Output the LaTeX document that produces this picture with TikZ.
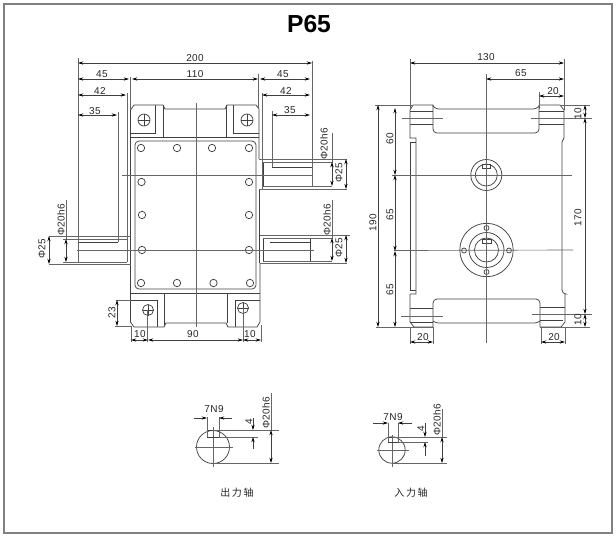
\documentclass[tikz,border=0pt]{standalone}
\usepackage{fontspec}
\setmainfont{Liberation Sans}
\newfontfamily\cjk{Noto Sans CJK SC}
\usetikzlibrary{arrows.meta}
\tikzset{
    part/.style={draw=black!75, line width=0.55pt},
    guide/.style={draw=black!60, line width=0.5pt},
    dimline/.style={draw=black!75, line width=0.5pt, {Stealth[length=4pt,width=2.4pt,black]}-{Stealth[length=4pt,width=2.4pt,black]}},
    tipend/.style={draw=black!75, line width=0.5pt, -{Stealth[length=4pt,width=2.4pt,black]}},
    dimtext/.style={font=\fontsize{7.5}{8}\selectfont\addfontfeatures{LetterSpace=4}, text=black!85, inner sep=0pt},
    dimup/.style={dimtext, rotate=90},
    cjktext/.style={font=\cjk\fontsize{7.5}{8}\selectfont, text=black!85, inner sep=0pt}
}
\begin{document}
\begin{tikzpicture}[x=0.75pt, y=-0.75pt]
    \useasboundingbox (0,0) rectangle (616,537);
    % Frame and title
    \draw[draw=black!50, line width=1.3pt] (4,4) rectangle (612,533);
    \node[font=\bfseries\fontsize{18.5}{18}\selectfont, inner sep=0pt] (title) at (309,24.5) {P65};

    % Front view: feet and body
    \draw[part] (130.5,322) -- (130.5,110) -- (134,105) -- (163,105) -- (165,109) -- (225,109) -- (227,105) -- (256,105) -- (259,109) -- (259,159);
    \draw[part] (130.5,137) -- (259,137);
    \draw[part] (130.5,133) -- (155,133) -- (155,105);
    \draw[part] (259,133) -- (233,133) -- (233,105);
    \draw[part] (163,105) -- (163,137);
    \draw[part] (226,105) -- (226,137);
    \draw[part, rounded corners=3pt] (135,141) rectangle (256,289);
    \draw[part] (130.5,322) -- (134,327) -- (164,327) -- (166,323) -- (226,323) -- (228,327) -- (257,327) -- (260,322) -- (260,263);
    \draw[part] (259,189) -- (259,263);
    \draw[part] (130.5,293) -- (260,293);
    \draw[part] (130.5,300) -- (157,300) -- (157,327);
    \draw[part] (260,300) -- (235,300) -- (235,327);
    \draw[part] (164,293) -- (164,325);
    \draw[part] (227,293) -- (227,323);

    % Holes
    \foreach \hx/\hy in {141/148,177/148,212/148,249/148,141.5/182,249/182,142/215,249/215,142/250,249/250,141/283,177/283,213.5/283,250/283}
        \draw[part] (\hx,\hy) circle (3.7);
    \foreach \bx/\by/\br in {144/120/6,247/120/6,148/310/5.5,243/308/5.5} {
        \draw[part] (\bx,\by) circle (\br);
        \draw[part] (\bx-\br,\by) -- (\bx+\br,\by);
        \draw[part] (\bx,\by-\br) -- (\bx,\by+\br);
    }

    % Front view: shafts
    \draw[part] (263,162) -- (263,186);
    \draw[part] (272,167) -- (312,167);
    \draw[part] (263,238) -- (263,261);
    \draw[part] (310,238) -- (310,261);
    \draw[part] (270,242) -- (310,242);
    \draw[part] (78,242) -- (118,242);
    % Centre lines
    \draw[guide] (196,103) -- (196,327);
    \draw[guide] (122,175) -- (312,175);
    \draw[guide] (77,250) -- (314,250);

    % Front view: extension lines
    \draw[guide] (78,58) -- (78,262);
    \draw[guide] (312,61) -- (312,186);
    \draw[guide] (130,77) -- (130,110);
    \draw[guide] (258,74) -- (258,109);
    \draw[guide] (127,93) -- (127,262);
    \draw[guide] (262,93) -- (262,189);
    \draw[guide] (118,112) -- (118,242);
    \draw[guide] (272,111) -- (272,167);
    \draw[guide] (259,159) -- (347,159);
    \draw[guide] (263,162) -- (333,162);
    \draw[guide] (263,186) -- (332,186);
    \draw[guide] (259,189) -- (347,189);
    \draw[guide] (260,235) -- (350,235);
    \draw[guide] (263,238) -- (333,238);
    \draw[guide] (263,261) -- (332,261);
    \draw[guide] (260,263) -- (347,263);
    \draw[guide] (49,236) -- (131,236);
    \draw[guide] (63,239) -- (127,239);
    \draw[guide] (63,262) -- (127,262);
    \draw[guide] (49,264) -- (131,264);
    \draw[guide] (332,133) -- (332,162);
    \draw[guide] (332,200) -- (332,238);
    \draw[guide] (66,200) -- (66,239);
    \draw[guide] (116,300) -- (131,300);
    \draw[guide] (115,326) -- (131,326);
    \draw[guide] (131,326) -- (131,342);
    \draw[guide] (147.5,310) -- (147.5,342);
    \draw[guide] (243,308) -- (243,342);
    \draw[guide] (261,325) -- (261,342);

    % Front view: dimensions
    \draw[dimline] (78,63) -- (312,63);
    \draw[dimline] (78,79) -- (129,79);
    \draw[dimline] (132,79) -- (258,79);
    \draw[dimline] (260,79) -- (310,79);
    \draw[dimline] (78,95) -- (126,95);
    \draw[dimline] (262,95) -- (310,95);
    \draw[dimline] (78,115) -- (117,115);
    \draw[dimline] (272,115) -- (310,115);
    \draw[dimline] (332,162) -- (332,186);
    \draw[dimline] (346,159) -- (346,189);
    \draw[dimline] (332,238) -- (332,261);
    \draw[dimline] (346,235) -- (346,263);
    \draw[dimline] (66,239) -- (66,262);
    \draw[dimline] (49,236) -- (49,264);
    \draw[dimline] (117,300) -- (117,326);
    \draw[dimline] (131,340) -- (148,340);
    \draw[dimline] (148,340) -- (243,340);
    \draw[dimline] (243,340) -- (261,340);
    \node[dimtext] (w200) at (195,58) {200};
    \node[dimtext] (w45a) at (102,74) {45};
    \node[dimtext] (w110) at (195,74) {110};
    \node[dimtext] (w45b) at (283,74) {45};
    \node[dimtext] (w42a) at (100,91) {42};
    \node[dimtext] (w42b) at (286,91) {42};
    \node[dimtext] (w35a) at (95,111) {35};
    \node[dimtext] (w35b) at (290,110) {35};
    \node[dimup] (dia20a) at (324,144) {Φ20h6};
    \node[dimup] (dia25a) at (339,173) {Φ25};
    \node[dimup] (dia20b) at (327,220) {Φ20h6};
    \node[dimup] (dia25b) at (339,248) {Φ25};
    \node[dimup] (dia20c) at (61,220) {Φ20h6};
    \node[dimup] (dia25c) at (42,249) {Φ25};
    \node[dimup] (h23) at (112,313) {23};
    \node[dimtext] (w10a) at (140,334) {10};
    \node[dimtext] (w90) at (193,334) {90};
    \node[dimtext] (w10b) at (250,334) {10};

    % Side view: outline
    \draw[part] (410,294) -- (416,294) -- (416,138) -- (410,138) -- (410,110) -- (413,105) -- (433,105) -- (433,106);
    \draw[part, rounded corners=3pt] (433,105) -- (433,133) -- (539,133) -- (539,105);
    \draw[part, rounded corners=2pt] (433,106) -- (436,109) -- (536,109) -- (539,106);
    \draw[part] (539,105) -- (560,105) -- (564,110) -- (564,138) -- (562,142);
    \draw[part, rounded corners=3pt] (562,142) -- (562,294) -- (565,294);
    \draw[part] (565,294) -- (565,322) -- (561,327) -- (540,327);
    \draw[part] (410,142) -- (410,290) -- (416,290);
    \draw[part] (410,142) -- (416,142);
    \draw[part] (410,294) -- (410,322) -- (414,327) -- (433,327);
    \draw[part, rounded corners=3pt] (433,327) -- (433,299) -- (540,299) -- (540,327);
    \draw[part, rounded corners=2pt] (433,321) -- (436,323) -- (537,323) -- (540,321);
    % Foot lines
    \foreach \fy in {111,124} {
        \draw[part] (410,\fy) -- (433,\fy);
        \draw[part] (539,\fy) -- (564,\fy);
    }
    \draw[part] (410,308) -- (433,308);
    \draw[part] (410,322) -- (433,322);
    \draw[part] (540,307) -- (565,307);
    \draw[part] (540,320) -- (563,320);

    % Side view: bores
    \draw[part] (486.3,175) circle (15.5);
    \draw[part] (486.3,175) circle (11);
    \draw[part] (482,164.5) rectangle (490,168.5);
    \draw[part] (486.5,250) circle (26.7);
    \draw[part] (486.5,250) circle (17.5);
    \draw[part] (486.5,250) circle (12);
    \draw[part] (482,239) rectangle (491,243);
    \foreach \px/\py in {486.5/228,486.5/272,464/250.5,509/250.5}
        \draw[part] (\px,\py) circle (2.5);

    % Side view: centre and extension lines
    \draw[guide] (486,74) -- (486,343);
    \draw[guide] (392,175.5) -- (572,175.5);
    \draw[guide] (394,250.5) -- (573,250);
    \draw[guide] (402,118) -- (443,118);
    \draw[guide] (531,118) -- (592,118);
    \draw[guide] (401,316) -- (443,316);
    \draw[guide] (532,314) -- (592,314);
    \draw[guide] (375,105) -- (413,105);
    \draw[guide] (376,327) -- (433,327);
    \draw[guide] (560,105) -- (590,105);
    \draw[guide] (540,327) -- (590,327);
    \draw[guide] (410,59) -- (410,110);
    \draw[guide] (564,59) -- (564,110);
    \draw[guide] (539,92) -- (539,109);
    \draw[guide] (410,327) -- (410,343.5);
    \draw[guide] (433,327) -- (433,343.5);
    \draw[guide] (541,327) -- (541,343.5);
    \draw[guide] (565,327) -- (565,343.5);

    % Side view: dimensions
    \draw[dimline] (410,63) -- (564,63);
    \draw[dimline] (486,79) -- (564,79);
    \draw[dimline] (539,96) -- (564,96);
    \draw[dimline] (378,105) -- (378,327);
    \draw[dimline] (395,108) -- (395,175);
    \draw[dimline] (395,175) -- (395,251);
    \draw[dimline] (395,251) -- (395,327);
    \draw[dimline] (585,118) -- (585,314);
    \draw[dimline] (585,105) -- (585,118);
    \draw[dimline] (585,314) -- (585,327);
    \draw[dimline] (410,342) -- (433,342);
    \draw[dimline] (541,342) -- (565,342);
    \node[dimtext] (s130) at (486,57) {130};
    \node[dimtext] (s65c) at (521,73) {65};
    \node[dimtext] (s20a) at (553,91) {20};
    \node[dimup] (s190) at (373,223) {190};
    \node[dimup] (s60) at (390,139) {60};
    \node[dimup] (s65a) at (390,215) {65};
    \node[dimup] (s65b) at (390,290) {65};
    \node[dimup] (s170) at (578,218) {170};
    \node[dimup] (s10a) at (578,114) {10};
    \node[dimup] (s10b) at (578,320) {10};
    \node[dimtext] (s20b) at (423,337) {20};
    \node[dimtext] (s20c) at (554,337) {20};

    % Output shaft section
    \draw[part] (213,447) circle (16.5);
    \draw[guide] (213,427) -- (213,467);
    \draw[guide] (195,447) -- (233,447);
    \draw[part] (207,430) rectangle (219,437);
    \draw[guide] (207,417) -- (207,437);
    \draw[guide] (219,417) -- (219,437);
    \draw[guide] (213,430) -- (279,430);
    \draw[guide] (219,437) -- (258,437);
    \draw[guide] (213,463) -- (279,463);
    \draw[guide] (271,393) -- (271,430);
    \draw[tipend] (194,418) -- (207,418);
    \draw[tipend] (232,418) -- (219,418);
    \draw[tipend] (253,418) -- (253,430);
    \draw[tipend] (253,449) -- (253,437);
    \draw[dimline] (271,430) -- (271,463);
    \node[dimtext] (outkey) at (214,409) {7N9};
    \node[dimup] (outdepth) at (249,422) {4};
    \node[dimup] (outdia) at (266,413) {Φ20h6};
    \node[cjktext] (outname) at (237,493) {出\,力\,轴};

    % Input shaft section
    \draw[part] (392,450) circle (13.2);
    \draw[guide] (392,435) -- (392,467);
    \draw[guide] (377,450) -- (409,450);
    \draw[part] (388,437) rectangle (398,442);
    \draw[guide] (388,423) -- (388,442);
    \draw[guide] (398,423) -- (398,442);
    \draw[guide] (392,437) -- (447,437);
    \draw[guide] (398,442) -- (428,442);
    \draw[guide] (392,463) -- (447,463);
    \draw[guide] (442,409) -- (442,437);
    \draw[tipend] (373,423) -- (388,423);
    \draw[tipend] (412,423) -- (398,423);
    \draw[tipend] (425,423) -- (425,437);
    \draw[tipend] (425,456) -- (425,442);
    \draw[dimline] (442,437) -- (442,463);
    \node[dimtext] (inkey) at (393,417) {7N9};
    \node[dimup] (indepth) at (421,429) {4};
    \node[dimup] (india) at (437,420) {Φ20h6};
    \node[cjktext] (inname) at (411,493) {入\,力\,轴};
\end{tikzpicture}
\end{document}
